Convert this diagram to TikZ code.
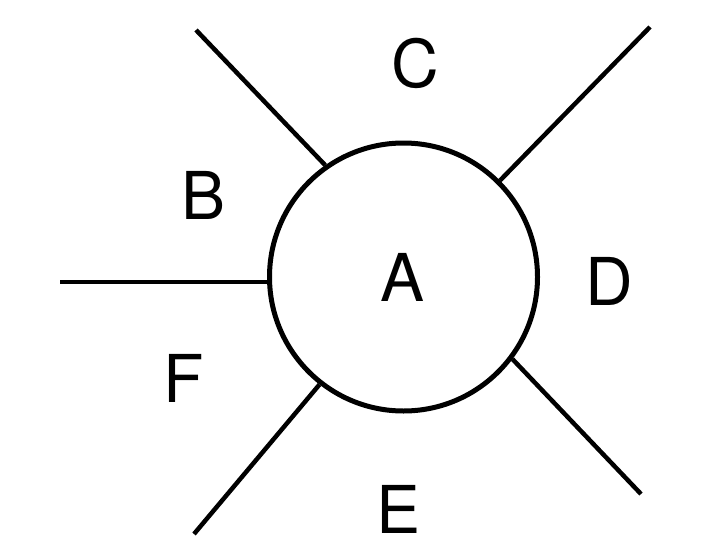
\documentclass[tikz,border=0pt]{standalone}
\usepackage{fontspec}
\setmainfont{TeX Gyre Heros}
\begin{document}
\begin{tikzpicture}[x=1pt,y=-1pt,
  ln/.style={line width=4.5pt},
  lab/.style={font=\fontsize{66}{66}\selectfont, inner sep=0pt}]
\useasboundingbox (0,0) rectangle (704,546);
\node[draw, circle, line width=5pt, minimum size=268pt, inner sep=0pt] (A) at (403.5,277) {};
\node[lab] (la) at (403,277) {A};
\node[lab] (lb) at (204,195) {B};
\node[lab] (lc) at (415,63) {C};
\node[lab] (ld) at (609,281) {D};
\node[lab] (le) at (399,509) {E};
\node[lab] (lf) at (184,378) {F};
\coordinate (p1) at (196,30);
\coordinate (p2) at (650,27);
\coordinate (p3) at (60,282);
\coordinate (p4) at (194,534);
\coordinate (p5) at (641,494);
\draw[ln] (p1) -- (A.125);
\draw[ln] (p2) -- (A.45);
\draw[ln] (p3) -- ([xshift=2pt]p3 -| A.west);
\draw[ln] (p4) -- (A.232);
\draw[ln] (p5) -- (A.-37);
\end{tikzpicture}
\end{document}
